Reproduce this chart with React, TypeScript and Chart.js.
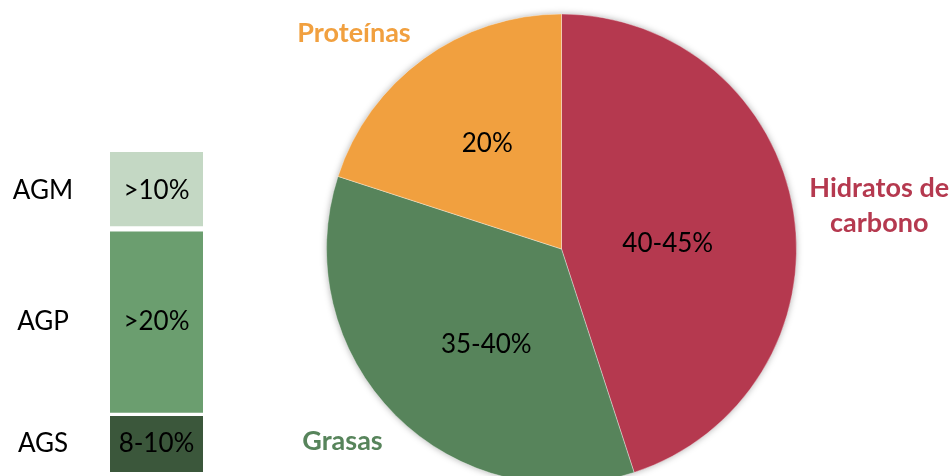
import React, { useEffect, useRef } from "react";
import { Chart, registerables } from "chart.js";

Chart.register(...registerables);

// ---- Pie data ----
const pieCategories = ["Hidratos de carbono", "Grasas", "Proteínas"];
const pieValues = [45, 35, 20];
const pieValueTexts = ["40-45%", "35-40%", "20%"];
const pieColors = ["#b5394f", "#57845b", "#f1a03f"];

// ---- Fat breakdown bar data (bottom to top) ----
const barCategories = ["AGS", "AGP", "AGM"];
const barValues = [9, 29, 12];
const barValueTexts = ["8-10%", ">20%", ">10%"];
const barColors = ["#3b573b", "#6b9e6f", "#c4d8c4"];

const FONT = "Lato, 'Open Sans', sans-serif";

// label placement (fractions of radius, relative to pie centre)
const innerPos = [
  [0.452, -0.021],
  [-0.32, 0.405],
  [-0.316, -0.45],
];
const outerPos = [
  [1.352, -0.185],
  [-0.932, 0.82],
  [-0.883, -0.92],
];

const piePlugin = {
  id: "pieDeco",
  beforeDatasetsDraw(chart: any) {
    const arc = chart.getDatasetMeta(0).data[0];
    if (!arc) return;
    const ctx = chart.ctx;
    ctx.save();
    ctx.shadowColor = "rgba(0,0,0,0.35)";
    ctx.shadowBlur = 7;
    ctx.fillStyle = "#ffffff";
    ctx.beginPath();
    ctx.arc(arc.x, arc.y, arc.outerRadius - 0.5, 0, Math.PI * 2);
    ctx.fill();
    ctx.restore();
  },
  afterDatasetsDraw(chart: any) {
    const meta = chart.getDatasetMeta(0);
    const ctx = chart.ctx;
    const arc0 = meta.data[0];
    if (!arc0) return;
    const cx = arc0.x;
    const cy = arc0.y;
    const R = arc0.outerRadius;
    ctx.save();
    ctx.textAlign = "center";
    ctx.textBaseline = "middle";
    meta.data.forEach((_: any, i: number) => {
      ctx.fillStyle = "#000000";
      ctx.font = `26px ${FONT}`;
      ctx.fillText(pieValueTexts[i], cx + innerPos[i][0] * R, cy + innerPos[i][1] * R);
      ctx.fillStyle = pieColors[i];
      ctx.font = `bold 27px ${FONT}`;
      const name = pieCategories[i];
      const ox = cx + outerPos[i][0] * R;
      const oy = cy + outerPos[i][1] * R;
      if (name === "Hidratos de carbono") {
        ctx.fillText("Hidratos de", ox, oy - 17.5);
        ctx.fillText("carbono", ox, oy + 17.5);
      } else {
        ctx.fillText(name, ox, oy);
      }
    });
    ctx.restore();
  },
};

const barPlugin = {
  id: "barDeco",
  afterDatasetsDraw(chart: any) {
    const ctx = chart.ctx;
    ctx.save();
    ctx.textAlign = "center";
    ctx.textBaseline = "middle";
    ctx.font = `26px ${FONT}`;
    ctx.fillStyle = "#000000";
    chart.data.datasets.forEach((_: any, i: number) => {
      const bar = chart.getDatasetMeta(i).data[0];
      if (!bar) return;
      const midY = (bar.y + bar.base) / 2;
      ctx.fillText(barValueTexts[i], bar.x, midY);
      ctx.fillText(barCategories[i], chart.chartArea.left - 67, midY);
    });
    ctx.restore();
  },
};

const borderWidths = [
  { top: 2, bottom: 0, left: 0, right: 0 },
  { top: 3, bottom: 2, left: 0, right: 0 },
  { top: 0, bottom: 3, left: 0, right: 0 },
];

export default function App() {
  const pieRef = useRef<HTMLCanvasElement>(null);
  const barRef = useRef<HTMLCanvasElement>(null);

  useEffect(() => {
    const pie = new Chart(pieRef.current!, {
      type: "pie",
      data: {
        labels: pieCategories,
        datasets: [
          {
            data: pieValues,
            backgroundColor: pieColors,
            borderColor: "rgba(255,255,255,0.35)",
            borderWidth: 1,
          },
        ],
      },
      options: {
        responsive: false,
        animation: false,
        layout: { padding: { left: 326, right: 155, top: 13.5, bottom: 15.5 } },
        plugins: { legend: { display: false }, tooltip: { enabled: false } },
      },
      plugins: [piePlugin],
    });

    const bar = new Chart(barRef.current!, {
      type: "bar",
      data: {
        labels: [""],
        datasets: barCategories.map((c, i) => ({
          label: c,
          data: [barValues[i]],
          backgroundColor: barColors[i],
          borderColor: "#ffffff",
          borderWidth: borderWidths[i],
          borderSkipped: false,
          barPercentage: 1,
          categoryPercentage: 1,
        })),
      },
      options: {
        responsive: false,
        animation: false,
        layout: { padding: { left: 110, right: 57, top: 152, bottom: 4 } },
        scales: {
          x: { stacked: true, display: false },
          y: { stacked: true, display: false, min: 0, max: 50 },
        },
        plugins: { legend: { display: false }, tooltip: { enabled: false } },
      },
      plugins: [barPlugin],
    });

    return () => {
      pie.destroy();
      bar.destroy();
    };
  }, []);

  return (
    <div
      style={{
        position: "absolute",
        left: 0,
        top: 0,
        width: 952,
        height: 476,
        overflow: "hidden",
        background: "#ffffff",
      }}
    >
      <canvas
        ref={pieRef}
        width={952}
        height={500}
        style={{ position: "absolute", left: 0, top: 0, width: 952, height: 500 }}
      />
      <canvas
        ref={barRef}
        width={260}
        height={476}
        style={{ position: "absolute", left: 0, top: 0, width: 260, height: 476 }}
      />
    </div>
  );
}
